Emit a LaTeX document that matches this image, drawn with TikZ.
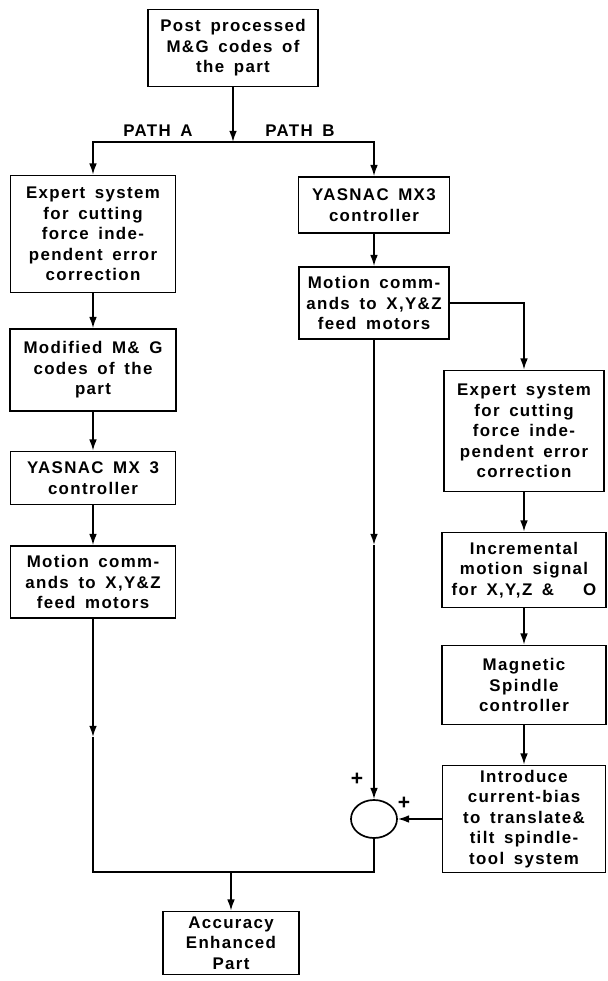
\documentclass[tikz,border=0pt]{standalone}
\usepackage{fontspec}
\setmainfont{Liberation Sans}
\newfontfamily\boxfont[LetterSpace=8,WordSpace=1.6]{Liberation Sans}
\usepackage{tikz}
\usetikzlibrary{shapes,arrows.meta}
\tikzset{
	block/.style    = {draw, line width=1.2pt, rectangle, align=center,
		inner sep=2pt, font=\boxfont\bfseries\fontsize{12}{14.5}\selectfont},
	size/.style 2 args = {minimum width=#1*0.025cm, minimum height=#2*0.025cm},
	sum/.style      = {draw, line width=1.2pt, ellipse, minimum width=1.15cm,
		minimum height=0.95cm, inner sep=0pt},
	label/.style    = {font=\boxfont\bfseries\fontsize{12}{14.5}\selectfont},
	sign/.style     = {font=\bfseries\fontsize{15}{15}\selectfont, inner sep=0pt},
	joint/.style    = {coordinate} % Joint
}

\begin{document}
\begin{tikzpicture}[x=0.025cm, y=-0.025cm, line width=1.2pt,
	>={Latex[length=8pt,width=5.5pt]}]
	\useasboundingbox (0,0) rectangle (607,981);
	\draw
	node at (233,48) [block,size={170}{77}] (top) {Post processed\\M\&G codes of\\the part}
	node at (93,234) [block,size={165}{117}] (l1) {Expert system\\for cutting\\force inde-\\pendent error\\correction}
	node at (93,370) [block,size={166}{82}] (l2) {Modified M\& G\\codes of the\\part}
	node at (93,478) [block,size={165}{53}] (l3) {YASNAC MX 3\\controller}
	node at (93,582) [block,size={165}{72}] (l4) {Motion comm-\\ands to X,Y\&Z\\feed motors}
	node at (374,205) [block,size={151}{56}] (r1) {YASNAC MX3\\controller}
	node at (374,303) [block,size={150}{72}] (r2) {Motion comm-\\ands to X,Y\&Z\\feed motors}
	node at (524,431) [block,size={160}{121}] (r3) {Expert system\\for cutting\\force inde-\\pendent error\\correction}
	node at (524,570) [block,size={164}{75}] (r4) {Incremental\\motion signal\\for X,Y,Z \&\ \ \ O}
	node at (524,685) [block,size={164}{79}] (r5) {Magnetic\\Spindle\\controller}
	node at (524,819) [block,size={163}{107}] (r6) {Introduce\\current-bias\\to translate\&\\tilt spindle-\\tool system}
	node at (374,819) [sum] (s1) {}
	node at (231,943) [block,size={136}{63}] (acc) {Accuracy\\Enhanced\\Part};

	\node[label] at (158,131) (pa) {PATH A};
	\node[label] at (300,131) (pb) {PATH B};
	\node[sign] at (357,779) (p1) {+};
	\node[sign] at (404,803) (p2) {+};

	\coordinate (split) at (233,142);
	\coordinate (lmid) at (93,737);
	\coordinate (rmid) at (374,545);
	\coordinate (jl) at (93,872);
	\coordinate (jr) at (374,872);
	\coordinate (jout) at (231,872);

	\draw[->](top)--(split);
	\draw[->](split)-|(l1);
	\draw[->](split)-|(r1);
	\draw[->](l1)--(l2);
	\draw[->](l2)--(l3);
	\draw[->](l3)--(l4);
	\draw[->](l4)--(lmid);
	\draw(lmid)--(jl)--(jr)--(s1);
	\draw[->](jout)--(acc);
	\draw[->](r1)--(r2);
	\draw[->](r2)--(rmid);
	\draw[->](rmid)--(s1);
	\draw[->](r2.east)-|(r3);
	\draw[->](r3)--(r4);
	\draw[->](r4)--(r5);
	\draw[->](r5)--(r6);
	\draw[->](r6)--(s1);
\end{tikzpicture}
\end{document}
